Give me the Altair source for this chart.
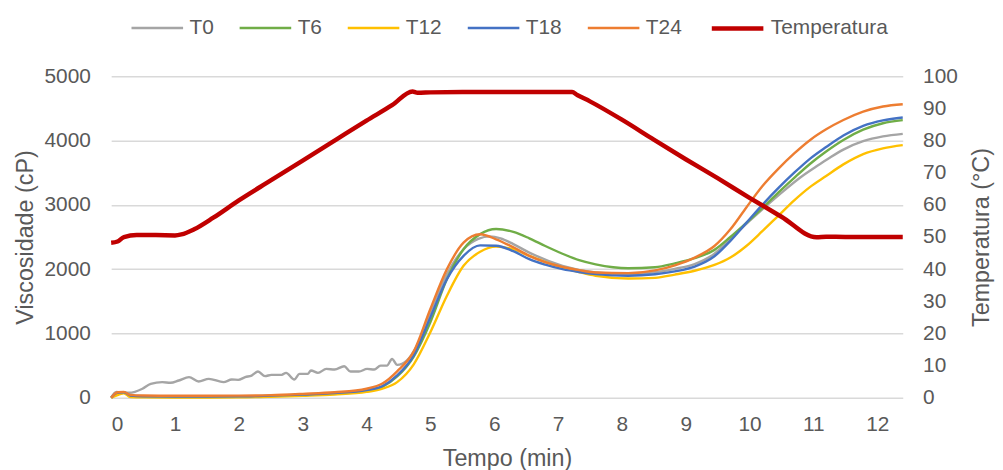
import altair as alt
import pandas as pd

# ---------------- data ----------------
series_names = ["T0", "T6", "T12", "T18", "T24", "Temperatura"]
series_colors = ["#A5A5A5", "#70AD47", "#FFC000", "#4472C4", "#ED7D31", "#C00000"]
series_widths = [2.4, 2.4, 2.4, 2.4, 2.4, 4.5]

t0_time = [0, 0.08, 0.2, 0.28, 0.49, 0.62, 0.80, 0.93, 1.06, 1.22, 1.37, 1.53, 1.76, 1.89,
           1.99, 2.10, 2.20, 2.30, 2.41, 2.51, 2.67, 2.74, 2.87, 2.95, 3.08, 3.13, 3.24, 3.37,
           3.50, 3.65, 3.75, 3.88, 4.01, 4.12, 4.22, 4.32, 4.40, 4.48, 4.63, 4.79, 5.0, 5.26,
           5.52, 5.75, 5.93, 6.1, 6.3, 6.55, 7.07, 7.59, 8.1, 8.52, 8.83, 9.14, 9.45, 9.7,
           10.0, 10.28, 10.55, 10.8, 11.05, 11.25, 11.47, 11.78, 12.09, 12.4]
t0_visc = [0, 88, 80, 77, 140, 216, 242, 232, 268, 320, 253, 294, 242, 283,
           278, 320, 345, 407, 335, 356, 356, 387, 283, 371, 371, 423, 387, 448,
           438, 490, 407, 407, 448, 438, 500, 500, 603, 510, 577, 809, 1328, 1922,
           2310, 2470, 2510, 2480, 2390, 2258, 2052, 1948, 1922, 1953, 2005, 2080, 2240, 2470,
           2750, 3000, 3230, 3430, 3600, 3730, 3860, 3990, 4065, 4105]

grid_time = [0, 0.1, 0.2, 0.3, 0.5, 1.0, 1.5, 2.0, 2.5, 3.0, 3.5, 4.0, 4.25, 4.48, 4.74,
             5.0, 5.26, 5.52, 5.78, 6.03, 6.3, 6.55, 6.8, 7.07, 7.33, 7.59, 8.1, 8.52, 8.83,
             9.14, 9.45, 9.7, 9.95, 10.2, 10.45, 10.7, 10.95, 11.2, 11.47, 11.78, 12.09, 12.4]
t6_visc = [0, 60, 75, 25, 15, 12, 12, 15, 25, 40, 65, 105, 170, 330, 640,
           1173, 1845, 2310, 2545, 2625, 2580, 2480, 2360, 2240, 2140, 2075, 2015, 2030, 2090,
           2170, 2300, 2500, 2720, 2950, 3190, 3420, 3640, 3830, 4010, 4170, 4270, 4318]
t12_visc = [0, 40, 70, 10, 5, 3, 3, 5, 15, 30, 50, 90, 140, 243, 520,
            1018, 1587, 2052, 2270, 2350, 2310, 2207, 2110, 2026, 1955, 1897, 1855, 1865, 1915,
            1975, 2065, 2180, 2360, 2590, 2830, 3070, 3280, 3450, 3630, 3790, 3880, 3930]
t18_visc = [0, 80, 85, 35, 22, 18, 18, 20, 32, 48, 72, 118, 180, 346, 660,
            1250, 1845, 2207, 2370, 2365, 2280, 2155, 2070, 2000, 1955, 1922, 1897, 1920, 1965,
            2040, 2200, 2440, 2720, 3000, 3260, 3500, 3720, 3900, 4080, 4230, 4315, 4360]
t24_visc = [0, 85, 90, 45, 35, 30, 30, 32, 40, 60, 85, 140, 220, 410, 720,
            1380, 2000, 2413, 2543, 2465, 2340, 2207, 2110, 2036, 1985, 1948, 1938, 1980, 2060,
            2180, 2360, 2620, 2960, 3290, 3560, 3800, 4010, 4175, 4320, 4450, 4530, 4565]

temp_time = [0, 0.1, 0.2, 0.4, 0.7, 1.0, 1.1, 1.3, 1.6, 2.0, 2.5, 3.0, 3.5, 4.0, 4.4, 4.72,
             4.8, 5.0, 5.5, 6.0, 6.5, 7.0, 7.22, 7.3, 7.5, 8.0, 8.5, 9.0, 9.5, 10.0, 10.5,
             11.05, 11.2, 11.5, 12.0, 12.4]
temp_vals = [48.2, 48.6, 50.0, 50.6, 50.6, 50.5, 50.8, 52.4, 56.0, 61.4, 67.6, 73.8, 80.0,
             86.2, 91.0, 95.3, 94.9, 95.0, 95.1, 95.1, 95.1, 95.1, 95.1, 94.2, 92.2, 86.5,
             80.3, 74.2, 68.3, 62.2, 56.3, 49.9, 50.1, 50.0, 50.0, 50.0]

x_ticks = list(range(0, 13))
visc_ticks = [0, 1000, 2000, 3000, 4000, 5000]
temp_ticks = list(range(0, 101, 10))

# ---------------- tables ----------------
rows = []
for name, times, vals in [("T0", t0_time, t0_visc), ("T6", grid_time, t6_visc),
                          ("T12", grid_time, t12_visc), ("T18", grid_time, t18_visc),
                          ("T24", grid_time, t24_visc)]:
    for t, v in zip(times, vals):
        rows.append({"series": name, "t": t, "v": v})
visc_df = pd.DataFrame(rows)
temp_df = pd.DataFrame({"series": ["Temperatura"] * len(temp_time), "t": temp_time, "v": temp_vals})

FONT = "Liberation Sans"
TXT = "#595959"

legend = alt.Legend(
    title=None, orient="none", legendX=19, legendY=-77, direction="horizontal",
    symbolType="stroke", symbolSize=2704, symbolStrokeWidth=2.5,
    labelFontSize=21, labelFont=FONT, labelColor=TXT, labelOffset=5,
    columnPadding=20, padding=0,
)
color = alt.Color("series:N", scale=alt.Scale(domain=series_names, range=series_colors), legend=legend)
swidth = alt.StrokeWidth("series:N",
                         scale=alt.Scale(type="ordinal", domain=series_names, range=series_widths),
                         legend=legend)

x_enc = alt.X("t:Q", scale=alt.Scale(domain=[0, 12.4], nice=False, zero=False),
              axis=alt.Axis(values=x_ticks, title="Tempo (min)", grid=False, domain=False,
                            ticks=False, labelPadding=16, labelFontSize=21,
                            titleFontSize=23.5, titleBaseline="alphabetic", titleY=68))

visc_layer = alt.Chart(visc_df).mark_line(interpolate="monotone").encode(
    x=x_enc,
    y=alt.Y("v:Q", scale=alt.Scale(domain=[0, 5000], nice=False),
            axis=alt.Axis(values=visc_ticks, format="d", title="Viscosidade (cP)", grid=True,
                          gridColor="#D9D9D9", gridWidth=1.5, domain=False, ticks=False,
                          labelPadding=21, labelFontSize=21, titleFontSize=23.5,
                          titleAngle=270, titleBaseline="bottom", titleAlign="center",
                          titleX=-74, titleY=162)),
    color=color,
    strokeWidth=swidth,
)

temp_layer = alt.Chart(temp_df).mark_line(interpolate="monotone").encode(
    x=x_enc,
    y=alt.Y("v:Q", scale=alt.Scale(domain=[0, 100], nice=False),
            axis=alt.Axis(orient="right", values=temp_ticks, format="d", title="Temperatura (°C)",
                          grid=False, domain=False, ticks=False, labelPadding=20,
                          labelFontSize=21, titleFontSize=23.5, titleAngle=270,
                          titleBaseline="top", titleAlign="center", titleX=67, titleY=162)),
    color=color,
    strokeWidth=swidth,
)

chart = alt.layer(visc_layer, temp_layer).resolve_scale(y="independent").properties(
    width=798, height=324,
    autosize=alt.AutoSizeParams(type="none"),
    padding={"left": 104, "top": 67, "right": 93, "bottom": 71},
).configure_view(stroke=None).configure_axis(
    labelFont=FONT, titleFont=FONT, labelColor=TXT, titleColor=TXT, titleFontWeight="normal",
).configure_legend(labelFont=FONT)

chart.save("out.html", embed_options={"renderer": "svg", "actions": False})
